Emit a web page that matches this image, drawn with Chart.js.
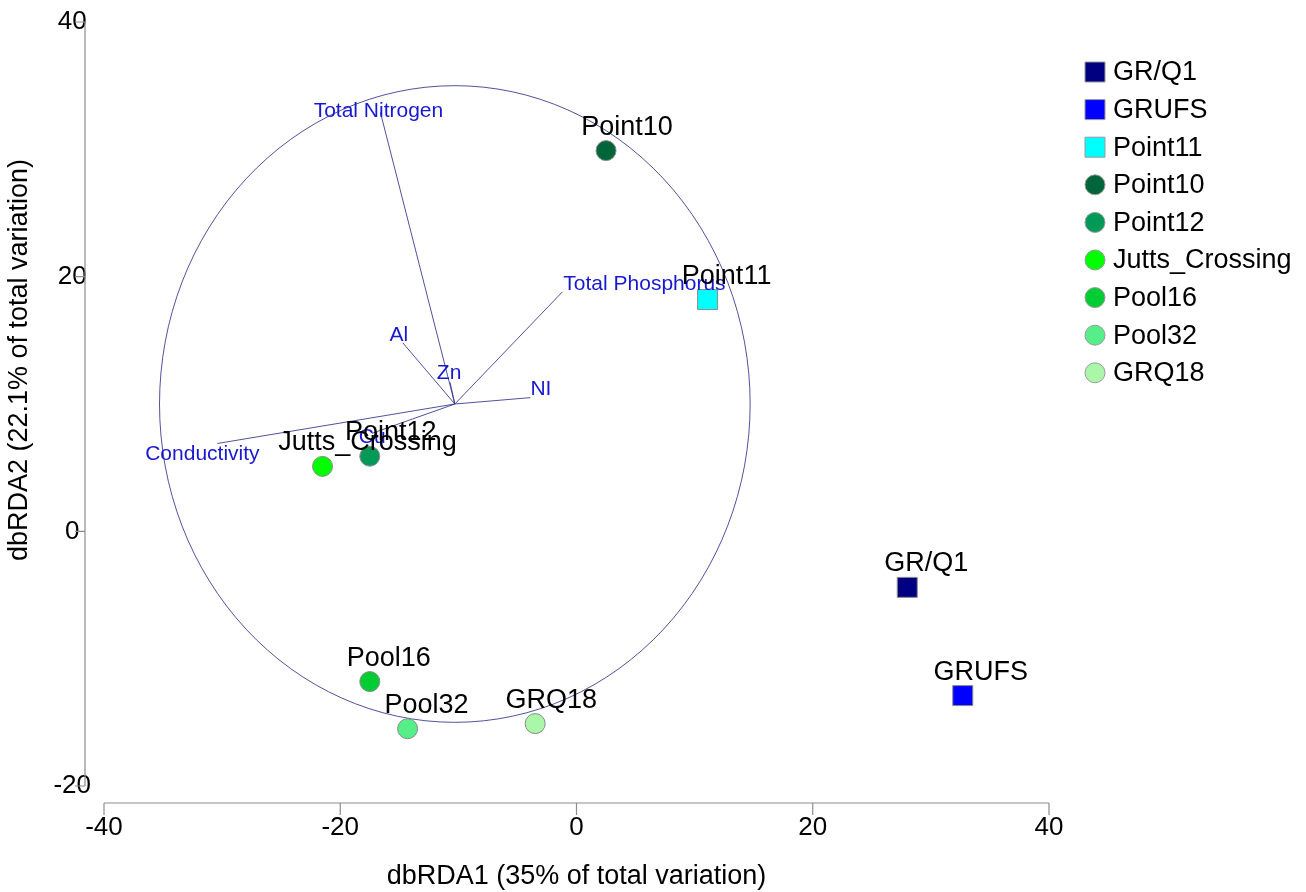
<!DOCTYPE html>
<html>
<head>
<meta charset="utf-8">
<script src="https://cdn.jsdelivr.net/npm/chart.js@4.4.0/dist/chart.umd.min.js"></script>
<style>
  html, body { margin: 0; padding: 0; background: #fff; }
  canvas { display: block; }
</style>
</head>
<body>
<canvas id="myChart" width="1306" height="892"></canvas>
<script>
// site scores on the two dbRDA axes
const sites = ['GR/Q1', 'GRUFS', 'Point11', 'Point10', 'Point12', 'Jutts_Crossing', 'Pool16', 'Pool32', 'GRQ18'];
const dbRDA1 = [28.0, 32.7, 11.1, 2.5, -17.5, -21.5, -17.5, -14.3, -3.5];
const dbRDA2 = [-4.4, -12.9, 18.2, 29.9, 5.9, 5.1, -11.8, -15.5, -15.1];

// environmental vectors (end points), all start from the same origin
const vectorNames = ['Total Nitrogen', 'Total Phosphorus', 'Al', 'Zn', 'NI', 'Cu', 'Conductivity'];
const vectorX = [-16.6, -1.2, -14.7, -10.7, -3.9, -17.3, -30.4];
const vectorY = [32.9, 18.8, 14.8, 11.7, 10.5, 7.7, 6.9];
const vectorOrigin = [-10.3, 10.0];
const circleRadius = 25;

const xTicks = [-40, -20, 0, 20, 40];
const yTicks = [-20, 0, 20, 40];

// styles
const markerShape = ['rect', 'rect', 'rect', 'circle', 'circle', 'circle', 'circle', 'circle', 'circle'];
const siteColors = ['#000080', '#0000ff', '#00ffff', '#00663a', '#009958', '#00ff00', '#00cc33', '#55ee88', '#aaf7aa'];
const labelDx = [19, 18, 19, 21, 21, 45, 19, 19, 16];
const vecAlign = ['center', 'left', 'center', 'center', 'left', 'center', 'center'];
const vecDx = [-2, 1, -4, -1, 0, 0, -15];
const vecDy = [-1, -8, -8, -9, -8, 4, 11];

const FONT = '"Liberation Sans", Arial, sans-serif';
const AXIS = '#8c8c8c';
const VEC_LINE = 'rgba(50,50,140,0.85)';
const VEC_TEXT = '#1818d0';

const siteSets = sites.map((name, i) => ({
  label: name,
  data: [{ x: dbRDA1[i], y: dbRDA2[i] }],
  pointStyle: markerShape[i],
  pointRadius: markerShape[i] === 'rect' ? 14.14 : 10,
  backgroundColor: siteColors[i],
  borderColor: '#8a8a8a',
  borderWidth: 1,
  order: 0
}));

const vectorSets = vectorNames.map((name, i) => ({
  label: name,
  isVector: true,
  data: [{ x: vectorOrigin[0], y: vectorOrigin[1] }, { x: vectorX[i], y: vectorY[i] }],
  showLine: true,
  pointRadius: 0,
  borderColor: VEC_LINE,
  borderWidth: 1,
  order: 1
}));

const biplot = {
  id: 'biplot',
  beforeDatasetsDraw(chart) {
    const { ctx, scales: { x, y } } = chart;
    const cx = x.getPixelForValue(vectorOrigin[0]);
    const cy = y.getPixelForValue(vectorOrigin[1]);
    const rx = x.getPixelForValue(vectorOrigin[0] + circleRadius) - cx;
    const ry = cy - y.getPixelForValue(vectorOrigin[1] + circleRadius);
    ctx.save();
    ctx.strokeStyle = VEC_LINE;
    ctx.lineWidth = 1;
    ctx.beginPath();
    ctx.ellipse(cx, cy, rx, ry, 0, 0, Math.PI * 2);
    ctx.stroke();
    ctx.restore();
  },
  afterDatasetsDraw(chart) {
    const ctx = chart.ctx;
    ctx.save();
    // vector labels
    ctx.font = '21px ' + FONT;
    ctx.fillStyle = VEC_TEXT;
    ctx.textBaseline = 'middle';
    let v = 0;
    chart.data.datasets.forEach((ds, i) => {
      if (!ds.isVector) return;
      const end = chart.getDatasetMeta(i).data[1];
      ctx.textAlign = vecAlign[v];
      ctx.fillText(ds.label, end.x + vecDx[v], end.y + vecDy[v]);
      v++;
    });
    // site labels
    ctx.font = '27px ' + FONT;
    ctx.fillStyle = '#000';
    ctx.textAlign = 'center';
    ctx.textBaseline = 'alphabetic';
    let s = 0;
    chart.data.datasets.forEach((ds, i) => {
      if (ds.isVector) return;
      const pt = chart.getDatasetMeta(i).data[0];
      ctx.fillText(ds.label, pt.x + labelDx[s], pt.y - 16);
      s++;
    });
    ctx.restore();
  },
  afterDraw(chart) {
    const { ctx, scales: { x, y } } = chart;
    ctx.save();
    ctx.strokeStyle = AXIS;
    ctx.lineWidth = 1.2;
    // detached x axis
    const ax = 803;
    ctx.beginPath();
    ctx.moveTo(x.getPixelForValue(xTicks[0]), ax);
    ctx.lineTo(x.getPixelForValue(xTicks[xTicks.length - 1]), ax);
    xTicks.forEach(t => {
      const px = x.getPixelForValue(t);
      ctx.moveTo(px, ax);
      ctx.lineTo(px, ax + 12);
    });
    // detached y axis
    const ay = 85;
    ctx.moveTo(ay, y.getPixelForValue(yTicks[yTicks.length - 1]));
    ctx.lineTo(ay, y.getPixelForValue(yTicks[0]));
    yTicks.forEach(t => {
      const py = y.getPixelForValue(t);
      ctx.moveTo(ay, py);
      ctx.lineTo(ay - 10, py);
    });
    ctx.stroke();

    // axis titles
    ctx.fillStyle = '#000';
    ctx.font = '27px ' + FONT;
    ctx.textAlign = 'center';
    ctx.textBaseline = 'middle';
    ctx.fillText('dbRDA1 (35% of total variation)', (x.left + x.right) / 2, 877);
    ctx.translate(20, 360);
    ctx.rotate(-Math.PI / 2);
    ctx.fillText('dbRDA2 (22.1% of total variation)', 0, 0);
    ctx.setTransform(1, 0, 0, 1, 0, 0);

    // legend
    ctx.font = '27px ' + FONT;
    ctx.textAlign = 'left';
    ctx.lineWidth = 1;
    ctx.strokeStyle = '#9a9a9a';
    sites.forEach((name, i) => {
      const cy = 72 + i * 37.6;
      ctx.fillStyle = siteColors[i];
      ctx.beginPath();
      if (markerShape[i] === 'rect') {
        ctx.rect(1085, cy - 10, 20, 20);
      } else {
        ctx.arc(1095, cy, 10, 0, Math.PI * 2);
      }
      ctx.fill();
      ctx.stroke();
      ctx.fillStyle = '#000';
      ctx.fillText(name, 1113, cy + 1);
    });
    ctx.restore();
  }
};

const config = {
  type: 'scatter',
  data: { datasets: [...siteSets, ...vectorSets] },
  options: {
    responsive: false,
    animation: false,
    layout: { padding: { left: 0, top: 22, right: 257, bottom: 0 } },
    plugins: {
      legend: { display: false },
      tooltip: { enabled: false }
    },
    scales: {
      x: {
        type: 'linear',
        min: -40,
        max: 40,
        grid: { display: false },
        border: { display: false },
        afterBuildTicks: s => { s.ticks = xTicks.map(v => ({ value: v })); },
        afterFit: s => { s.height = 106; },
        ticks: {
          padding: 18,
          color: '#000',
          autoSkip: false,
          maxRotation: 0,
          font: { size: 26, family: FONT }
        }
      },
      y: {
        type: 'linear',
        min: -20,
        max: 40,
        grid: { display: false },
        border: { display: false },
        afterBuildTicks: s => { s.ticks = yTicks.map(v => ({ value: v })); },
        afterFit: s => { s.width = 104; },
        ticks: {
          padding: 5,
          crossAlign: 'center',
          color: '#000',
          autoSkip: false,
          font: { size: 26, family: FONT }
        }
      }
    }
  },
  plugins: [biplot]
};

var myChart = new Chart(document.getElementById('myChart'), config);
</script>
</body>
</html>
